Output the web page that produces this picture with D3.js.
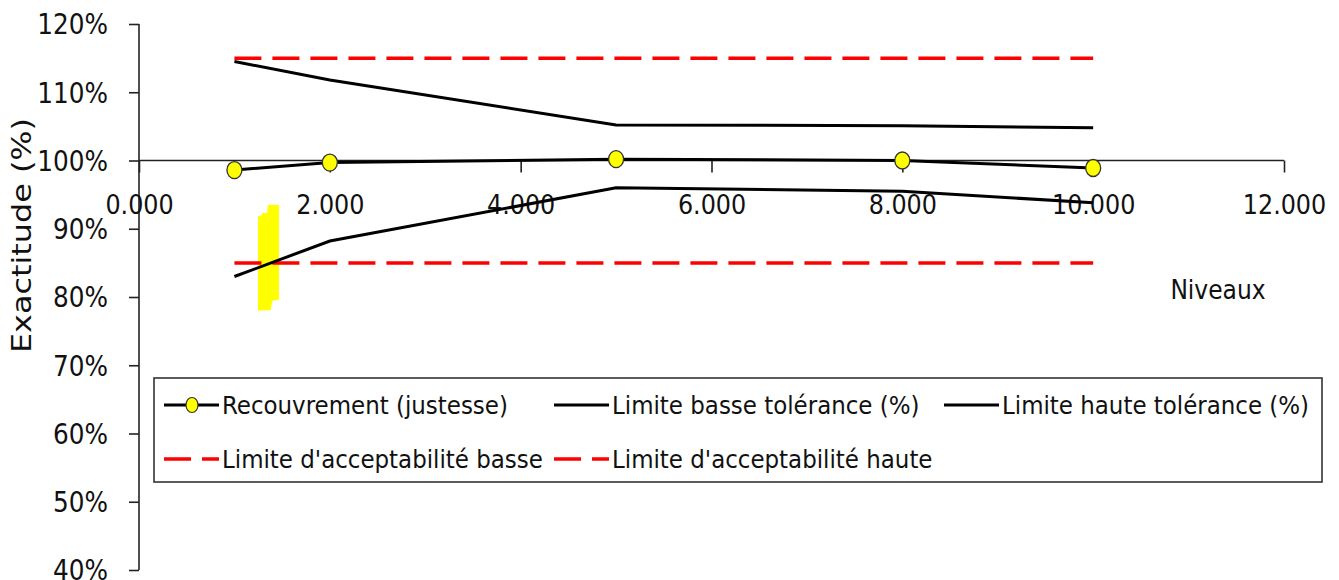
<!DOCTYPE html>
<html>
<head>
<meta charset="utf-8">
<script src="https://cdn.jsdelivr.net/npm/d3@7"></script>
<style>
  html, body { margin: 0; padding: 0; background: #fff; }
  svg { display: block; }
  text { font-family: "DejaVu Sans Condensed", "DejaVu Sans", sans-serif; fill: #111; }
</style>
</head>
<body>
<svg id="chart" width="1339" height="580"></svg>
<script>
// Concentration levels and measured values (fractions of 100 %)
const niveaux = [1, 2, 5, 8, 10];
const recouvrement = [0.986, 0.997, 1.002, 1.000, 0.989];
const limiteBasseTol = [0.830, 0.882, 0.960, 0.955, 0.938];
const limiteHauteTol = [1.145, 1.118, 1.052, 1.051, 1.048];
const acceptBasse = [0.85, 0.85, 0.85, 0.85, 0.85];
const acceptHaute = [1.15, 1.15, 1.15, 1.15, 1.15];

const xTicks = [0, 2, 4, 6, 8, 10, 12];
const yTicks = [0.4, 0.5, 0.6, 0.7, 0.8, 0.9, 1.0, 1.1, 1.2];

// Highlighter stroke near level 1.3 (x, y in data units)
const surlignage = [
  [1.247, 0.918], [1.289, 0.920], [1.289, 0.923], [1.342, 0.923],
  [1.352, 0.935], [1.467, 0.935], [1.467, 0.796], [1.394, 0.794],
  [1.383, 0.781], [1.247, 0.780]
];

const legendItems = [
  { label: "Recouvrement (justesse)", type: "marker" },
  { label: "Limite basse tolérance (%)", type: "solid" },
  { label: "Limite haute tolérance (%)", type: "solid" },
  { label: "Limite d'acceptabilité basse", type: "dash" },
  { label: "Limite d'acceptabilité haute", type: "dash" }
];

const svg = d3.select("#chart");

const x = d3.scaleLinear().domain([0, 12]).range([139, 1284]);
const y = d3.scaleLinear().domain([0.4, 1.2]).range([570, 24]);

// Highlight behind everything
svg.append("path")
  .attr("d", d3.line().x(d => x(d[0])).y(d => y(d[1]))(surlignage) + "Z")
  .attr("fill", "#ffff00");

// Y axis
const yAxis = svg.append("g")
  .attr("transform", `translate(${x(0)},0)`)
  .call(d3.axisLeft(y).tickValues(yTicks).tickFormat(d3.format(".0%")).tickSize(10).tickPadding(21));
yAxis.select(".domain").attr("stroke", "#222").attr("stroke-width", 1.6).attr("d", `M0,${y(1.2)}V${y(0.4)}`);
yAxis.selectAll(".tick line").attr("stroke", "#222").attr("stroke-width", 1.6);
yAxis.selectAll(".tick text").attr("font-size", 27.5).attr("font-family", null).attr("fill", "#111").attr("dy", "0.36em");

// X axis crossing at 100 %
const xAxis = svg.append("g")
  .attr("transform", `translate(0,${y(1.0)})`)
  .call(d3.axisBottom(x).tickValues(xTicks).tickFormat(d3.format(".3f")).tickSize(12).tickPadding(0));
xAxis.select(".domain").attr("stroke", "#222").attr("stroke-width", 1.6).attr("d", `M${x(0)},0H${x(12)}`);
xAxis.selectAll(".tick line").attr("stroke", "#222").attr("stroke-width", 1.6);
xAxis.selectAll(".tick text").attr("font-size", 26.5).attr("font-family", null).attr("fill", "#111")
  .attr("y", 0).attr("dy", 0).attr("transform", "translate(0,53)");

// Axis titles
svg.append("text")
  .attr("transform", `translate(31,${(118 + 353) / 2}) rotate(-90)`)
  .attr("text-anchor", "middle")
  .attr("font-size", 26)
  .attr("textLength", 235)
  .attr("lengthAdjust", "spacingAndGlyphs")
  .text("Exactitude (%)");

svg.append("text")
  .attr("x", 1218).attr("y", 299)
  .attr("text-anchor", "middle")
  .attr("font-size", 26)
  .text("Niveaux");

const line = d3.line().x((d, i) => x(niveaux[i])).y(d => y(d));

// Acceptability limits
[acceptBasse, acceptHaute].forEach(s => {
  svg.append("path").attr("d", line(s))
    .attr("fill", "none").attr("stroke", "#ff0000").attr("stroke-width", 3.5)
    .attr("stroke-dasharray", "27 11");
});

// Tolerance limits
[limiteBasseTol, limiteHauteTol].forEach(s => {
  svg.append("path").attr("d", line(s))
    .attr("fill", "none").attr("stroke", "#000").attr("stroke-width", 3);
});

// Recovery
svg.append("path").attr("d", line(recouvrement))
  .attr("fill", "none").attr("stroke", "#000").attr("stroke-width", 3);
svg.append("g").selectAll("ellipse").data(recouvrement).join("ellipse")
  .attr("cx", (d, i) => x(niveaux[i])).attr("cy", d => y(d))
  .attr("rx", 7.5).attr("ry", 8.5)
  .attr("fill", "#ffff00").attr("stroke", "#333").attr("stroke-width", 1.3);

// Legend
const legend = svg.append("g");
legend.append("rect")
  .attr("x", 154).attr("y", 378).attr("width", 1168).attr("height", 104)
  .attr("fill", "#fff").attr("stroke", "#333").attr("stroke-width", 1.6);

const cols = [164, 554, 944];
const rows = [405, 459];
legendItems.forEach((it, i) => {
  const cx = cols[i % 3], cy = rows[Math.floor(i / 3)];
  const g = legend.append("g").attr("transform", `translate(${cx},${cy})`);
  if (it.type === "dash") {
    g.append("line").attr("x1", 0).attr("x2", 55).attr("y1", 0).attr("y2", 0)
      .attr("stroke", "#ff0000").attr("stroke-width", 3.5).attr("stroke-dasharray", "27 11");
  } else {
    g.append("line").attr("x1", 0).attr("x2", 55).attr("y1", 0).attr("y2", 0)
      .attr("stroke", "#000").attr("stroke-width", 3);
  }
  if (it.type === "marker") {
    g.append("ellipse").attr("cx", 28).attr("cy", 0).attr("rx", 6).attr("ry", 7.5)
      .attr("fill", "#ffff00").attr("stroke", "#333").attr("stroke-width", 1.2);
  }
  g.append("text").attr("x", 58).attr("y", 0).attr("dy", "0.36em")
    .attr("font-size", 25.5).text(it.label);
});
</script>
</body>
</html>
